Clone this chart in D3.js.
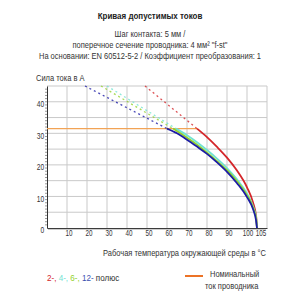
<!DOCTYPE html>
<html>
<head>
<meta charset="utf-8">
<script src="https://cdn.jsdelivr.net/npm/d3@7"></script>
<style>
body{margin:0;background:#fff;}
svg{font-family:"Liberation Sans",Arial,sans-serif;}
</style>
</head>
<body>
<svg id="chart" width="300" height="300"></svg>
<script>
// temperature (°C) / current (A) pairs
var bluePts = [[60,31.5],[65,30],[70,28],[75,25.8],[80,23.5],[85,20.8],[90,17.8],[95,14.2],[100,9.8],[103,6],[104.5,2.5],[105,0]];
var greenPts = [[63,31.5],[70,28.6],[75,26.4],[80,23.9],[85,21.2],[90,18.3],[95,14.8],[100,10.4],[103,6.5],[104.6,2.8],[105,0]];
var cyanPts = [[64.5,31.5],[70,29.4],[75,27.2],[80,24.7],[85,22],[90,19],[95,15.4],[100,10.9],[103,6.9],[104.6,3],[105,0]];
var redPts = [[75,31.5],[80,28.8],[85,25.7],[90,22.3],[95,18.2],[100,12.9],[103,8.1],[104.6,3.5],[105,0]];
var blueDash = [[19,45],[60,31.5]];
var greenDash = [[27,45],[63,31.5]];
var cyanDash = [[30,45],[64.5,31.5]];
var redDash = [[49,45],[75,31.5]];
var ratedCurrent = 31.5;
var ratedEnd = 75;
var xTicks = [10,20,30,40,50,60,70,80,90,100,105];
var yTicks = [0,10,20,30,40];

var svg = d3.select("#chart");
var x = d3.scaleLinear().domain([0,110]).range([47,267]);
var y = d3.scaleLinear().domain([0,45]).range([228,86]);

// grid
svg.append("g").selectAll("line").data(d3.range(10,111,10)).enter().append("line")
	.attr("x1",function(d){return x(d);}).attr("x2",function(d){return x(d);})
	.attr("y1",y(0)).attr("y2",y(45))
	.attr("stroke","#c9c9c9").attr("stroke-width",1);
svg.append("g").selectAll("line").data(d3.range(5,46,5)).enter().append("line")
	.attr("x1",x(0)).attr("x2",x(110))
	.attr("y1",function(d){return y(d);}).attr("y2",function(d){return y(d);})
	.attr("stroke","#c9c9c9").attr("stroke-width",1);

// axes
var xAxis = d3.axisBottom(x).tickValues(xTicks).tickSize(0).tickPadding(1);
var gx = svg.append("g").attr("transform","translate(0,"+y(0)+")").call(xAxis);
var yAxis = d3.axisLeft(y).tickValues(yTicks).tickSize(0).tickPadding(4);
var gy = svg.append("g").attr("transform","translate("+x(0)+",0)").call(yAxis);
[gx,gy].forEach(function(g){
	g.select(".domain").attr("stroke","#333");
	g.selectAll("text").attr("font-size","9.5px").attr("fill","#333")
		.attr("font-family","Liberation Sans, Arial, sans-serif");
});
gx.selectAll("text").attr("transform",function(d){
	var dx = d==105 ? 3.5 : (d==100 ? 0.5 : 1.5);
	return "translate("+dx+",0) scale(0.66,1)";
});
gy.selectAll("text").attr("dy","0.5em").attr("transform","scale(0.7,1)");

// minor ticks
svg.append("g").selectAll("line").data(d3.range(1,110,1)).enter().append("line")
	.attr("x1",function(d){return x(d);}).attr("x2",function(d){return x(d);})
	.attr("y1",y(0)).attr("y2",y(0)+2)
	.attr("stroke","#555").attr("stroke-width",0.6);
svg.append("g").selectAll("line").data(d3.range(1,45,1)).enter().append("line")
	.attr("x1",x(0)-2).attr("x2",x(0))
	.attr("y1",function(d){return y(d);}).attr("y2",function(d){return y(d);})
	.attr("stroke","#555").attr("stroke-width",0.6);

var line = d3.line().x(function(d){return x(d[0]);}).y(function(d){return y(d[1]);}).curve(d3.curveMonotoneX);
var straight = d3.line().x(function(d){return x(d[0]);}).y(function(d){return y(d[1]);});

// rated current
svg.append("path").datum([[0,ratedCurrent],[ratedEnd,ratedCurrent]]).attr("d",straight)
	.attr("fill","none").attr("stroke","#f2a355").attr("stroke-width",1.3);

var series = [
	{solid:bluePts,dash:blueDash,color:"#1c1ca6"},
	{solid:greenPts,dash:greenDash,color:"#92d22c"},
	{solid:cyanPts,dash:cyanDash,color:"#72e3d2"},
	{solid:redPts,dash:redDash,color:"#d4262a"}
];
series.forEach(function(s){
	svg.append("path").datum(s.dash).attr("d",straight)
		.attr("fill","none").attr("stroke",s.color).attr("stroke-width",1.3)
		.attr("stroke-dasharray","2,3").attr("opacity",0.8);
});
[series[3],series[2],series[1],series[0]].forEach(function(s){
	svg.append("path").datum(s.solid).attr("d",line)
		.attr("fill","none").attr("stroke",s.color).attr("stroke-width",1.8);
});

// texts (horizontally condensed like the reference font)
function txt(t,px,py,opts){
	opts = opts||{};
	return svg.append("text")
		.attr("transform","translate("+px+","+py+") scale("+(opts.sx||0.79)+",1)")
		.attr("font-size",opts.size||"9.5px")
		.attr("font-weight",opts.weight||"normal")
		.attr("text-anchor",opts.anchor||"start")
		.attr("fill",opts.fill||"#333")
		.text(t);
}
txt("Кривая допустимых токов",150,19,{anchor:"middle",weight:"bold",size:"9.5px",fill:"#222",sx:0.84});
txt("Шаг контакта: 5 мм /",150,37,{anchor:"middle"});
txt("поперечное сечение проводника: 4 мм² \"f-st\"",150,48,{anchor:"middle"});
txt("На основании: EN 60512-5-2 / Коэффициент преобразования: 1",150,59,{anchor:"middle"});
txt("Сила тока в А",36,81);
txt("Рабочая температура окружающей среды в °C",266,256,{anchor:"end"});

var leg = txt("",47,281,{sx:0.85});
[["2-","#d4262a"],[", ","#d4262a"],["4-","#72e3d2"],[", ","#72e3d2"],["6-","#92d22c"],[", ","#92d22c"],["12-","#3b4fb0"],[" полюс","#333"]]
	.forEach(function(p){leg.append("tspan").attr("fill",p[1]).text(p[0]);});

svg.append("line").attr("x1",185).attr("x2",203).attr("y1",276).attr("y2",276)
	.attr("stroke","#ec7326").attr("stroke-width",2);
txt("Номинальный",210,277);
txt("ток проводника",205,289);
</script>
</body>
</html>
